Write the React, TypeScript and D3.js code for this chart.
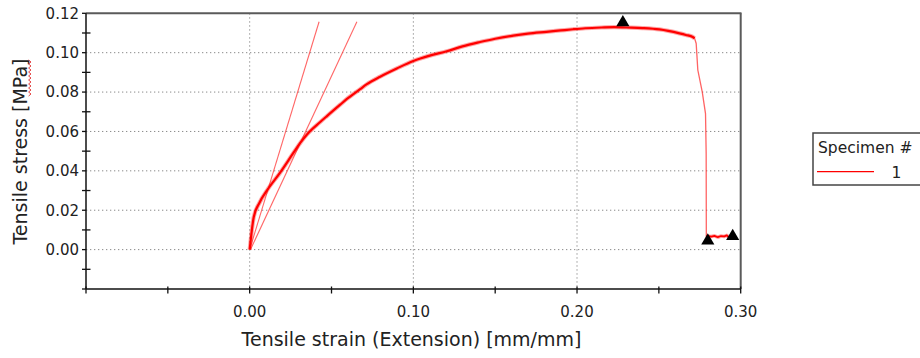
import React from "react";
import * as d3 from "d3";

// Main specimen curve (strain [mm/mm], stress [MPa])
const loadStrain = [0, 0.0025, 0.006, 0.0106, 0.0187, 0.0268, 0.031, 0.035, 0.0431, 0.0472, 0.0553, 0.0594, 0.0675, 0.0716, 0.0797, 0.0899, 0.1, 0.11, 0.1204, 0.13, 0.1407, 0.15, 0.161, 0.17, 0.1813, 0.19, 0.1976, 0.205, 0.215, 0.2228, 0.23, 0.24, 0.2504, 0.2626, 0.2665, 0.2707, 0.2718];
const loadStress = [0, 0.0166, 0.0238, 0.0301, 0.0392, 0.0492, 0.0543, 0.0585, 0.0648, 0.0678, 0.0736, 0.0765, 0.0815, 0.084, 0.0878, 0.092, 0.0958, 0.0985, 0.1007, 0.1032, 0.1054, 0.1071, 0.1087, 0.1097, 0.1106, 0.1113, 0.1119, 0.1124, 0.1128, 0.113, 0.1128, 0.1125, 0.1118, 0.1098, 0.109, 0.108, 0.1073];
// Failure drop
const dropStrain = [0.2718, 0.2728, 0.2738, 0.2765, 0.2785, 0.2789, 0.279];
const dropStress = [0.1073, 0.1047, 0.0912, 0.0801, 0.0691, 0.049, 0.0064];
// After break
const postStrain = [0.279, 0.2805, 0.282, 0.284, 0.286, 0.288, 0.29, 0.2915, 0.2931];
const postStress = [0.0064, 0.0068, 0.0066, 0.007, 0.0063, 0.0069, 0.0067, 0.0072, 0.006];
// Modulus lines
const modAStrain = [0, 0.0424];
const modAStress = [0, 0.1157];
const modBStrain = [0.0005, 0.0655];
const modBStress = [0, 0.1157];
// Markers
const markerStrain = [0.228, 0.2799, 0.2951];
const markerStress = [0.1153, 0.0045, 0.0068];

const xTickMarks = [-0.1, -0.05, 0, 0.05, 0.1, 0.15, 0.2, 0.25, 0.3];
const xTickLabels = [0, 0.1, 0.2, 0.3];
const xGrid = [0, 0.1, 0.2];
const yMajor = [-0.02, 0, 0.02, 0.04, 0.06, 0.08, 0.1, 0.12];
const yMinor = [-0.01, 0.01, 0.03, 0.05, 0.07, 0.09, 0.11];
const yTickLabels = [0, 0.02, 0.04, 0.06, 0.08, 0.1, 0.12];
const yGrid = [0, 0.02, 0.04, 0.06, 0.08, 0.1];

const legendTitle = "Specimen #";
const legendItems = ["1"];
const xTitle = "Tensile strain (Extension) [mm/mm]";
const yTitle = "Tensile stress [MPa]";

export default function App() {
  const x = d3.scaleLinear().domain([-0.1, 0.3]).range([86, 740.7]);
  const y = d3.scaleLinear().domain([-0.02, 0.12]).range([289, 13.3]);
  const line = d3
    .line<[number, number]>()
    .x((d) => x(d[0]))
    .y((d) => y(d[1]));
  const smooth = d3
    .line<[number, number]>()
    .x((d) => x(d[0]))
    .y((d) => y(d[1]))
    .curve(d3.curveMonotoneX);
  const zip = (a: number[], b: number[]) => a.map((v, i) => [v, b[i]] as [number, number]);
  const font = "'DejaVu Sans', Verdana, sans-serif";
  const fmt = d3.format(".2f");
  const tri = d3.symbol().type(d3.symbolTriangle).size(75)();
  const loadPath = smooth(zip(loadStrain, loadStress)) || "";
  const postPath = line(zip(postStrain, postStress)) || "";

  // squiggle under MPa
  const sq: string[] = [];
  for (let yy = 60, k = 0; yy <= 97; yy += 2, k++) sq.push(`${k === 0 ? "M" : "L"}${k % 2 ? 31 : 28.6},${yy}`);

  return (
    <svg
      width={920}
      height={358}
      style={{ position: "absolute", left: 0, top: 0, background: "#fff" }}
      fontFamily={font}
    >
      {/* grid */}
      {yGrid.map((v) => (
        <line key={"yg" + v} x1={86} x2={740.7} y1={y(v)} y2={y(v)} stroke="#8a8a8a" strokeDasharray="1.3,2.7" />
      ))}
      {xGrid.map((v) => (
        <line key={"xg" + v} x1={x(v)} x2={x(v)} y1={13.3} y2={289} stroke="#8a8a8a" strokeDasharray="1.3,2.7" />
      ))}
      {/* borders */}
      <line x1={86} x2={741.5} y1={13.3} y2={13.3} stroke="#5a5a5a" strokeWidth={2} />
      <line x1={740.7} x2={740.7} y1={13.3} y2={289} stroke="#5a5a5a" strokeWidth={2} />
      {/* axes */}
      <line x1={86} x2={86} y1={13.3} y2={289} stroke="#111" strokeWidth={1.5} />
      <line x1={86} x2={741} y1={289} y2={289} stroke="#111" strokeWidth={1.5} />
      {yMajor.map((v) => (
        <line key={"ym" + v} x1={82} x2={86} y1={y(v)} y2={y(v)} stroke="#111" strokeWidth={1.3} />
      ))}
      {yMinor.map((v) => (
        <line key={"yn" + v} x1={82} x2={90.5} y1={y(v)} y2={y(v)} stroke="#111" strokeWidth={1.3} />
      ))}
      {xTickMarks.map((v) => (
        <line key={"xt" + v} x1={x(v)} x2={x(v)} y1={286.5} y2={293.5} stroke="#111" strokeWidth={1.3} />
      ))}
      {/* tick labels */}
      {yTickLabels.map((v) => (
        <text key={"yl" + v} x={79} y={y(v) + 5.3} textAnchor="end" fontSize={15} fill="#222">
          {fmt(v)}
        </text>
      ))}
      {xTickLabels.map((v) => (
        <text key={"xl" + v} x={x(v)} y={317} textAnchor="middle" fontSize={15} fill="#222">
          {fmt(v)}
        </text>
      ))}
      {/* titles */}
      <text x={411.5} y={346} textAnchor="middle" fontSize={19} fill="#222">
        {xTitle}
      </text>
      <text transform="translate(27,151.5) rotate(-90)" textAnchor="middle" fontSize={19} fill="#222">
        {yTitle}
      </text>
      <path d={sq.join("")} fill="none" stroke="#e03030" strokeWidth={0.9} />
      {/* modulus lines */}
      <path d={line(zip(modAStrain, modAStress)) || ""} fill="none" stroke="#ff4040" strokeOpacity={0.8} strokeWidth={1.1} />
      <path d={line(zip(modBStrain, modBStress)) || ""} fill="none" stroke="#ff4040" strokeOpacity={0.8} strokeWidth={1.1} />
      {/* curve */}
      <path d={line(zip(dropStrain, dropStress)) || ""} fill="none" stroke="#ff3030" strokeOpacity={0.75} strokeWidth={1.3} />
      <path d={loadPath} fill="none" stroke="#ff0000" strokeOpacity={0.35} strokeWidth={4.2} strokeLinejoin="round" />
      <path d={loadPath} fill="none" stroke="#ff0000" strokeWidth={2.2} strokeLinejoin="round" />
      <path d={postPath} fill="none" stroke="#ff0000" strokeOpacity={0.35} strokeWidth={3.6} strokeLinejoin="round" />
      <path d={postPath} fill="none" stroke="#ff0000" strokeWidth={1.8} strokeLinejoin="round" />
      {/* markers */}
      {markerStrain.map((v, i) => (
        <path key={"mk" + i} d={tri || ""} transform={`translate(${x(v)},${y(markerStress[i])})`} fill="#000" />
      ))}
      {/* legend */}
      <rect x={813} y={133} width={115} height={52} fill="#fff" stroke="#444" strokeWidth={1.5} />
      <text x={818} y={153.3} fontSize={15.5} fill="#222">
        {legendTitle}
      </text>
      {legendItems.map((s, i) => (
        <g key={"lg" + i}>
          <line x1={817} x2={874} y1={171.7 + i * 20} y2={171.7 + i * 20} stroke="#ff0000" strokeWidth={1.3} />
          <text x={896.5} y={178.3 + i * 20} textAnchor="middle" fontSize={15.5} fill="#222">
            {s}
          </text>
        </g>
      ))}
    </svg>
  );
}
